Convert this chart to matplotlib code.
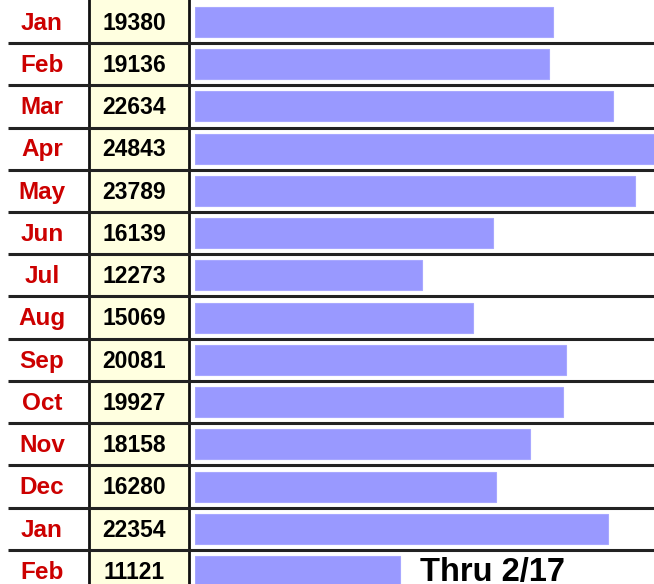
import matplotlib.pyplot as plt
from matplotlib.transforms import blended_transform_factory

meses = ["Jan", "Feb", "Mar", "Apr", "May", "Jun", "Jul", "Aug",
         "Sep", "Oct", "Nov", "Dec", "Jan", "Feb"]
visitas = [19380, 19136, 22634, 24843, 23789, 16139, 12273, 15069,
           20081, 19927, 18158, 16280, 22354, 11121]
nota = "Thru 2/17"

W, H = 654, 584
fig = plt.figure(figsize=(W / 100, H / 100), dpi=100)

# filas: centro de la primera en y=22px, alto 42.23px
fila = 42.23
y_top = -22 / fila
y_bot = (H - 22) / fila

# eje de fondo (tabla)
fondo = fig.add_axes([0, 0, 1, 1])
fondo.set_xlim(0, 1)
fondo.set_ylim(y_bot, y_top)
fondo.axis("off")
tr = blended_transform_factory(fondo.transAxes, fondo.transData)

fondo.axvspan(89 / W, 189 / W, color="#ffffe0", zorder=0)
fondo.axvline(89 / W, color="#111111", lw=2, zorder=3)
fondo.axvline(189 / W, color="#111111", lw=2, zorder=3)
for i in range(len(meses) - 1):
    fondo.plot([8 / W, 1], [i + 0.5, i + 0.5], color="#222222", lw=2.2,
               transform=tr, zorder=3, solid_capstyle="butt")

for i, (m, v) in enumerate(zip(meses, visitas)):
    fondo.text(42 / W, i + 0.03, m, transform=tr, ha="center", va="center",
               color="#cc0000", fontsize=17.5, fontweight="bold",
               family="Liberation Sans")
    fondo.text(134 / W, i + 0.03, str(v), transform=tr, ha="center",
               va="center", color="black", fontsize=16.5, fontweight="bold",
               family="Liberation Sans")

# eje de barras
ax = fig.add_axes([195 / W, 0, (W - 195) / W, 1])
ax.patch.set_alpha(0)
ax.set_xlim(0, max(visitas))
ax.set_ylim(y_bot, y_top)
ax.barh(range(len(visitas)), visitas, height=0.71, color="#9999ff",
        edgecolor="#a8a8ff", linewidth=0.8)
ax.axis("off")

ax.text(0.49, len(visitas) - 1 + 0.03, nota,
        transform=blended_transform_factory(ax.transAxes, ax.transData),
        ha="left", va="center", fontsize=23.5, fontweight="bold",
        family="Liberation Sans", color="black")

fig.savefig("out.png", dpi=100)
